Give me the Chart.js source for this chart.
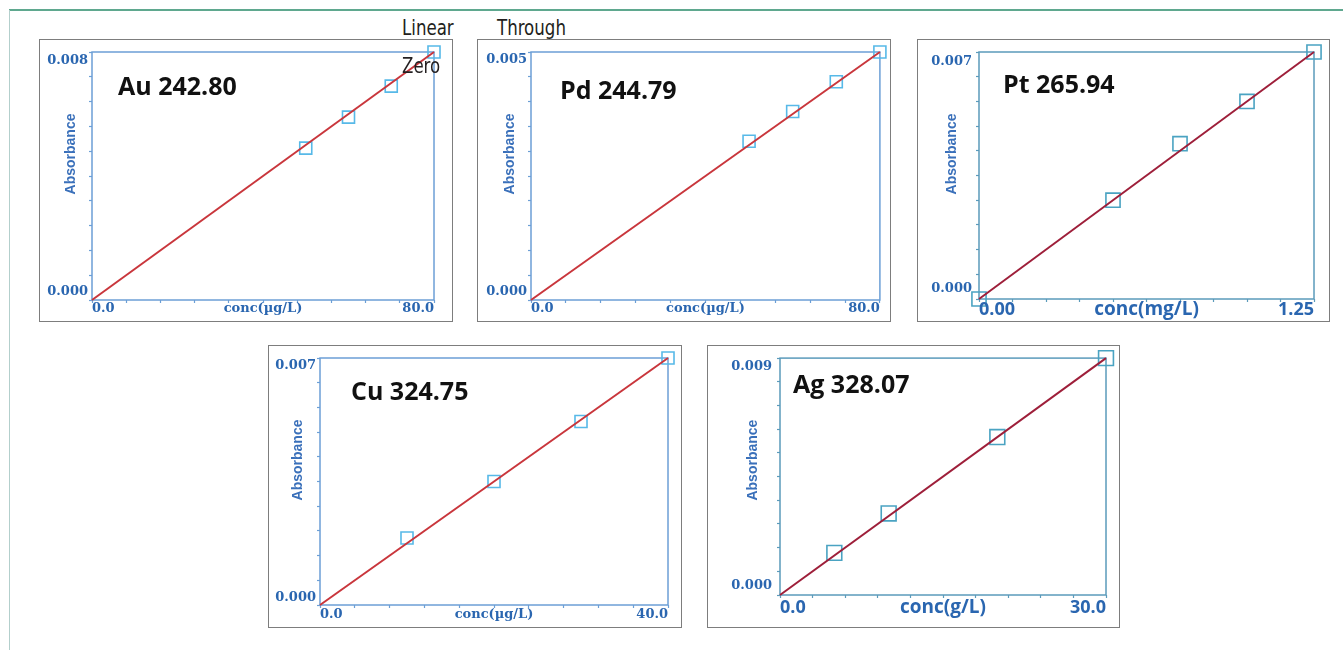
<!DOCTYPE html>
<html>
<head>
<meta charset="utf-8">
<script src="https://cdn.jsdelivr.net/npm/chart.js@4.4.1/dist/chart.umd.min.js"></script>
<style>
  html, body { margin: 0; padding: 0; background: #fff; }
  body { position: relative; width: 1343px; height: 650px; overflow: hidden; }
  .rule-top { position: absolute; left: 9px; top: 9px; width: 1334px; height: 2px; background: #5fa88f; }
  .rule-left { position: absolute; left: 9px; top: 10px; width: 1px; height: 640px; background: #b3cfcc; }
  .panel { position: absolute; box-sizing: border-box; border: 1px solid #7d7d7d; background: #fff; }
  .panel canvas { display: block; }
  .note {
    position: absolute; z-index: 5; color: #231f20; font-size: 22px; line-height: 22px;
    font-family: "Liberation Sans Narrow", "DejaVu Sans Condensed", "Noto Sans", sans-serif;
    transform: scaleX(0.84); transform-origin: left center; white-space: nowrap;
  }
</style>
</head>
<body>
<div class="rule-top"></div>
<div class="rule-left"></div>
<div class="note" style="left:402px; top:17px;">Linear</div>
<div class="note" style="left:497px; top:17px;">Through</div>
<div class="note" style="left:402px; top:55px;">Zero</div>

<div class="panel" id="p-au"><canvas id="c-au"></canvas></div>
<div class="panel" id="p-pd"><canvas id="c-pd"></canvas></div>
<div class="panel" id="p-pt"><canvas id="c-pt"></canvas></div>
<div class="panel" id="p-cu"><canvas id="c-cu"></canvas></div>
<div class="panel" id="p-ag"><canvas id="c-ag"></canvas></div>

<script>
// calibration standards
const auConc = [50, 60, 70, 80];
const auAbs = [0.0049, 0.0059, 0.0069, 0.0080];
const auFitConc = [0, 80];
const auFitAbs = [0, 0.0080];
const auXLabels = ['0.0', '80.0'];
const auYLabels = ['0.000', '0.008'];

const pdConc = [50, 60, 70, 80];
const pdAbs = [0.0032, 0.0038, 0.0044, 0.0050];
const pdFitConc = [0, 80];
const pdFitAbs = [0, 0.0050];
const pdXLabels = ['0.0', '80.0'];
const pdYLabels = ['0.000', '0.005'];

const ptConc = [0, 0.5, 0.75, 1.0, 1.25];
const ptAbs = [0, 0.0028, 0.0044, 0.0056, 0.0070];
const ptFitConc = [0, 1.25];
const ptFitAbs = [0, 0.0070];
const ptXLabels = ['0.00', '1.25'];
const ptYLabels = ['0.000', '0.007'];

const cuConc = [10, 20, 30, 40];
const cuAbs = [0.0019, 0.0035, 0.0052, 0.0070];
const cuFitConc = [0, 40];
const cuFitAbs = [0, 0.0070];
const cuXLabels = ['0.0', '40.0'];
const cuYLabels = ['0.000', '0.007'];

const agConc = [5, 10, 20, 30];
const agAbs = [0.0016, 0.0031, 0.0060, 0.0090];
const agFitConc = [0, 30];
const agFitAbs = [0, 0.0090];
const agXLabels = ['0.0', '30.0'];
const agYLabels = ['0.000', '0.009'];

// two looks: the bright one (Au, Pd, Cu) and the darker one (Pt, Ag)
const bright = {
  frame: '#6c9fd6', text: '#2a66b0', axisTitle: '#3a70ba', marker: '#57b9e8', line: '#c9363c',
  numFont: 'bold 13px "DejaVu Serif"', xFont: 'bold 13px "DejaVu Serif"', unitFont: 'bold 13px "DejaVu Serif"'
};
const dark = {
  frame: '#5b9bbb', text: '#2a66b0', axisTitle: '#3a70ba', marker: '#4aa3c2', line: '#9e1f3a',
  numFont: 'bold 13px "DejaVu Serif"', xFont: 'bold 18px "Open Sans"', unitFont: 'bold 19px "Open Sans"'
};

const panels = [
  { id: 'au', title: 'Au 242.80', unit: 'conc(\u00b5g/L)', conc: auConc, abs: auAbs, fitConc: auFitConc, fitAbs: auFitAbs,
    xLabels: auXLabels, yLabels: auYLabels, look: bright, marker: 8.5,
    box: [39, 39, 414, 283], plot: [92, 52, 434, 300], titleOff: [26, 36], yGap: 4, yInset: 8.5, xDrop: 9, absX: -21 },
  { id: 'pd', title: 'Pd 244.79', unit: 'conc(\u00b5g/L)', conc: pdConc, abs: pdAbs, fitConc: pdFitConc, fitAbs: pdFitAbs,
    xLabels: pdXLabels, yLabels: pdYLabels, look: bright, marker: 8.5,
    box: [477, 39, 414, 283], plot: [531, 52, 880, 300], titleOff: [29, 40], yGap: 4, yInset: 8, xDrop: 9, absX: -21 },
  { id: 'pt', title: 'Pt 265.94', unit: 'conc(mg/L)', conc: ptConc, abs: ptAbs, fitConc: ptFitConc, fitAbs: ptFitAbs,
    xLabels: ptXLabels, yLabels: ptYLabels, look: dark, marker: 10,
    box: [917, 39, 413, 283], plot: [979, 52, 1314, 299], titleOff: [24, 34], yGap: 7, yInset: 10, xDrop: 11, absX: -27 },
  { id: 'cu', title: 'Cu 324.75', unit: 'conc(\u00b5g/L)', conc: cuConc, abs: cuAbs, fitConc: cuFitConc, fitAbs: cuFitAbs,
    xLabels: cuXLabels, yLabels: cuYLabels, look: bright, marker: 8.5,
    box: [268, 345, 414, 283], plot: [320, 358, 668, 605], titleOff: [31, 35], yGap: 4, yInset: 7.5, xDrop: 10, absX: -22 },
  { id: 'ag', title: 'Ag 328.07', unit: 'conc(g/L)', conc: agConc, abs: agAbs, fitConc: agFitConc, fitAbs: agFitAbs,
    xLabels: agXLabels, yLabels: agYLabels, look: dark, marker: 10.5,
    box: [707, 345, 413, 283], plot: [780, 358, 1106, 595], titleOff: [13, 28], yGap: 8, yInset: 9, xDrop: 13, absX: -27 }
];

// frame round the plot area and all the axis text
const panelText = {
  id: 'panelText',
  beforeDatasetsDraw(chart, args, opts) {
    const a = chart.chartArea;
    const ctx = chart.ctx;
    ctx.save();
    ctx.strokeStyle = opts.look.frame;
    ctx.lineWidth = 1.5;
    ctx.strokeRect(a.left, a.top, a.right - a.left, a.bottom - a.top);
    ctx.restore();
  },
  afterDraw(chart, args, opts) {
    const ctx = chart.ctx;
    const a = chart.chartArea;
    const xs = chart.scales.x;
    const ys = chart.scales.y;
    const look = opts.look;
    ctx.save();

    // y end labels
    ctx.fillStyle = look.text;
    ctx.font = look.numFont;
    ctx.textAlign = 'right';
    ctx.textBaseline = 'middle';
    ctx.fillText(opts.yLabels[0], a.left - opts.yGap, ys.getPixelForValue(parseFloat(opts.yLabels[0])) - opts.yInset);
    ctx.fillText(opts.yLabels[1], a.left - opts.yGap, ys.getPixelForValue(parseFloat(opts.yLabels[1])) + opts.yInset);

    // x end labels and unit
    const xy = a.bottom + opts.xDrop;
    ctx.font = look.xFont;
    ctx.textAlign = 'left';
    ctx.fillText(opts.xLabels[0], xs.getPixelForValue(parseFloat(opts.xLabels[0])), xy);
    ctx.textAlign = 'right';
    ctx.fillText(opts.xLabels[1], xs.getPixelForValue(parseFloat(opts.xLabels[1])), xy);
    ctx.font = look.unitFont;
    ctx.textAlign = 'center';
    ctx.fillText(opts.unit, (a.left + a.right) / 2, xy);

    // rotated axis title
    ctx.save();
    ctx.translate(a.left + opts.absX, a.top + 102);
    ctx.rotate(-Math.PI / 2);
    ctx.fillStyle = look.axisTitle;
    ctx.font = 'bold 14px "Liberation Sans", Arial, sans-serif';
    ctx.fillText('Absorbance', 0, 0);
    ctx.restore();

    // element / wavelength title
    ctx.fillStyle = '#111';
    ctx.font = 'bold 25px "Open Sans"';
    ctx.textAlign = 'left';
    ctx.fillText(opts.title, a.left + opts.titleOff[0], a.top + opts.titleOff[1]);
    ctx.restore();
  }
};

panels.forEach(p => {
  const [bx, by, bw, bh] = p.box;
  const [pl, pt, pr, pb] = p.plot;
  const div = document.getElementById('p-' + p.id);
  div.style.left = bx + 'px';
  div.style.top = by + 'px';
  div.style.width = bw + 'px';
  div.style.height = bh + 'px';
  const canvas = document.getElementById('c-' + p.id);
  const cw = bw - 2, chh = bh - 2;
  canvas.width = cw;
  canvas.height = chh;
  canvas.style.width = cw + 'px';
  canvas.style.height = chh + 'px';

  const ox = bx + 1, oy = by + 1;
  const leftW = pl - ox;
  const topPad = pt - oy;
  const rightPad = (ox + cw) - pr;
  const bottomH = (oy + chh) - pb;

  const xMin = parseFloat(p.xLabels[0]), xMax = parseFloat(p.xLabels[1]);
  const yMin = parseFloat(p.yLabels[0]), yMax = parseFloat(p.yLabels[1]);

  new Chart(canvas.getContext('2d'), {
    type: 'scatter',
    data: {
      datasets: [
        {
          type: 'line',
          label: 'fit',
          data: p.fitConc.map((x, i) => ({ x: x, y: p.fitAbs[i] })),
          borderColor: p.look.line,
          borderWidth: 2,
          pointRadius: 0,
          tension: 0,
          clip: false
        },
        {
          label: 'standards',
          data: p.conc.map((x, i) => ({ x: x, y: p.abs[i] })),
          pointStyle: 'rect',
          pointRadius: p.marker,
          pointBorderWidth: 1.6,
          borderColor: p.look.marker,
          backgroundColor: 'rgba(0,0,0,0)',
          clip: false
        }
      ]
    },
    options: {
      responsive: false,
      animation: false,
      devicePixelRatio: 1,
      layout: { padding: { left: 0, top: topPad, right: rightPad, bottom: 0 } },
      plugins: {
        legend: { display: false },
        tooltip: { enabled: false },
        panelText: {
          look: p.look, title: p.title, unit: p.unit, xLabels: p.xLabels, yLabels: p.yLabels,
          titleOff: p.titleOff, yGap: p.yGap, yInset: p.yInset, xDrop: p.xDrop, absX: p.absX
        }
      },
      scales: {
        x: {
          type: 'linear',
          min: xMin,
          max: xMax,
          border: { display: false },
          grid: { drawOnChartArea: false, drawTicks: true, tickLength: 3, tickColor: p.look.frame, tickWidth: 1.2 },
          ticks: { stepSize: (xMax - xMin) / 10, autoSkip: false, padding: 0, callback: () => '' },
          afterFit: s => { s.height = bottomH; }
        },
        y: {
          type: 'linear',
          min: yMin,
          max: yMax,
          border: { display: false },
          grid: { drawOnChartArea: false, drawTicks: true, tickLength: 3, tickColor: p.look.frame, tickWidth: 1.2 },
          ticks: { stepSize: (yMax - yMin) / 10, autoSkip: false, padding: 0, callback: () => '' },
          afterFit: s => { s.width = leftW; }
        }
      }
    },
    plugins: [panelText]
  });
});
</script>
</body>
</html>
